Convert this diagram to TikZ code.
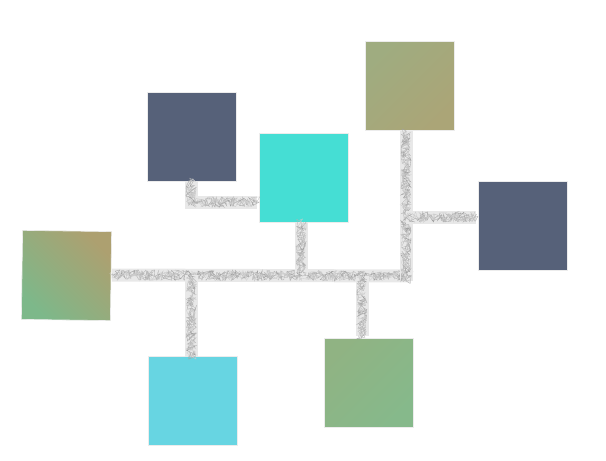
\documentclass[tikz,border=0pt]{standalone}
\usetikzlibrary{decorations.pathmorphing}
\definecolor{slate}{HTML}{566179}
\definecolor{turq}{HTML}{45DED4}
\definecolor{skycyan}{HTML}{67D5E2}
\definecolor{olive}{HTML}{9FAC80}
\definecolor{olivetan}{HTML}{ABA577}
\definecolor{sage}{HTML}{7DB88A}
\definecolor{sagemid}{HTML}{8BB27F}
\definecolor{tan}{HTML}{ADA070}
\definecolor{sagegreen}{HTML}{86B98B}
\definecolor{sagetan}{HTML}{90B383}
\definecolor{chalkbg}{HTML}{E8E8E8}
\definecolor{chalkdot}{HTML}{A2A2A2}
\tikzset{
  note/.style={minimum size=89pt, inner sep=0pt, outer sep=0pt, draw=white!85!gray, line width=0.6pt},
  chalkbase/.style={line width=13pt, draw=chalkbg, line cap=butt, line join=miter},
  chalkgrain/.style={draw=chalkdot, line width=0.3pt, decorate,
     decoration={random steps, segment length=1pt, amplitude=5.2pt}},
}
\newcommand{\chalkpath}[1]{%
  \draw[chalkbase] #1;
  \draw[chalkgrain] #1;
  \draw[chalkgrain, draw=chalkdot!80] #1;
  \draw[chalkgrain, draw=chalkdot!55] #1;
}
\begin{document}
\begin{tikzpicture}[x=1pt,y=-1pt]
\pgfmathsetseed{7}
\useasboundingbox (0,0) rectangle (606,461);
% notes
\node[note, fill=slate] (n1) at (192,136.5) {};
\node[note, fill=turq] (n2) at (303.5,177.5) {};
\node[note, shading=axis, top color=olive, bottom color=olivetan, shading angle=45] (n3) at (409.5,86) {};
\node[note, fill=slate] (n4) at (522.5,226) {};
\node[note, shading=axis, top color=tan, middle color=sagemid, bottom color=sage, shading angle=-45, rotate=-0.8] (n5) at (66.5,275.5) {};
\node[note, fill=skycyan] (n6) at (193,401) {};
\node[note, shading=axis, top color=sagetan, bottom color=sagegreen, shading angle=45] (n7) at (368.5,383) {};
% connector coordinates
\coordinate (mL) at (112,275);
\coordinate (mR) at (410,276);
\coordinate (t3) at (406,131);
\coordinate (b3) at (406,281);
\coordinate (j4) at (406,217);
\coordinate (e4) at (476,217);
\coordinate (s1) at (191,181);
\coordinate (k1) at (191,202);
\coordinate (e1) at (257,202);
\coordinate (s2) at (301,222);
\coordinate (b2) at (301,275);
\coordinate (t6) at (191.5,275);
\coordinate (e6) at (191.5,357);
\coordinate (t7) at (362,276);
\coordinate (e7) at (362,336);
% connectors
\chalkpath{(mL) -- (mR)}
\chalkpath{(t3) -- (b3)}
\chalkpath{(j4) -- (e4)}
\chalkpath{(s1) -- (k1) -- (e1)}
\chalkpath{(s2) -- (b2)}
\chalkpath{(t6) -- (e6)}
\chalkpath{(t7) -- (e7)}
\end{tikzpicture}
\end{document}
